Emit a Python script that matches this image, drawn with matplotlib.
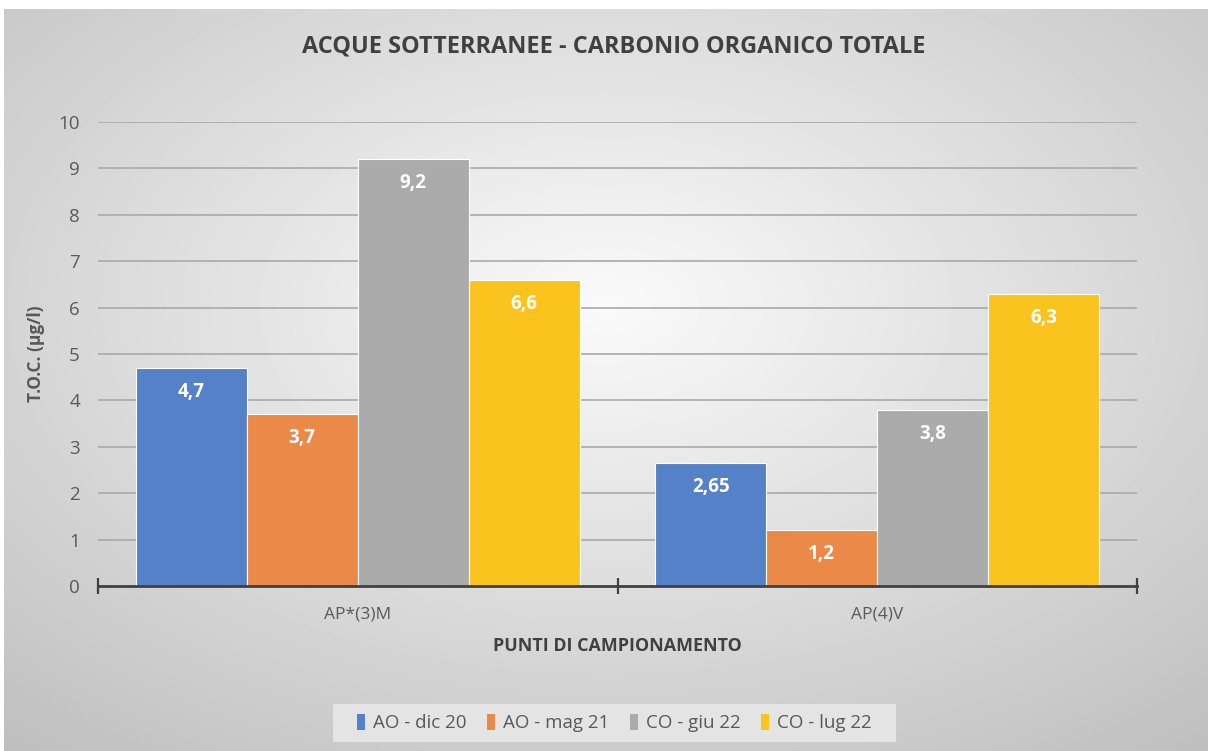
import numpy as np
import matplotlib
matplotlib.use("Agg")
import matplotlib.pyplot as plt
from matplotlib.patches import Patch, Rectangle

# data
points = ["AP*(3)M", "AP(4)V"]
series = ["AO - dic 20", "AO - mag 21", "CO - giu 22", "CO - lug 22"]
dic20 = [4.7, 2.65]
mag21 = [3.7, 1.2]
giu22 = [9.2, 3.8]
lug22 = [6.6, 6.3]
values = [dic20, mag21, giu22, lug22]
colors = ["#5581C9", "#EB8A48", "#ABABAB", "#FBC31E"]

font = ["Open Sans", "DejaVu Sans"]
plt.rcParams["font.family"] = font

W, H = 1208, 751
fig = plt.figure(figsize=(W / 100, H / 100), dpi=100, facecolor="white")

# radial grey background like the Excel chart area
bg = fig.add_axes([0, 0, 1, 1], zorder=-10)
bg.set_xlim(0, W)
bg.set_ylim(H, 0)
bg.axis("off")
yy, xx = np.mgrid[0:200, 0:300]
dx = (xx / 299.0 - 0.5) * 2
dy = (yy / 199.0 - 0.4) * 2
r = np.sqrt(dx ** 2 + dy ** 2)
shade = np.clip(250 - 38 * r, 180, 255) / 255.0
bg.imshow(shade, cmap="gray", vmin=0, vmax=1, extent=(4, W, H, 9),
          aspect="auto", interpolation="bilinear")
# legend box
bg.add_patch(Rectangle((333, 704), 563, 38, facecolor="#e4e4e4",
                       edgecolor="none", zorder=2))

ax = fig.add_axes([98 / W, 165 / H, 1039 / W, 464 / H])
ax.patch.set_alpha(0)

x = np.arange(len(points))
w = 0.2137
for i, (vals, col) in enumerate(zip(values, colors)):
    pos = x + (i - 1.5) * w
    bars = ax.bar(pos, vals, w, color=col, edgecolor="white", linewidth=0.8,
                  label=series[i], zorder=3)
    for b, v in zip(bars, vals):
        ax.annotate(str(v).replace(".", ","), (b.get_x() + b.get_width() / 2, v),
                    xytext=(0, -24), textcoords="offset pixels",
                    ha="center", va="center", color="white",
                    fontsize=13.5, fontweight="bold", zorder=4)

ax.set_xlim(-0.5, 1.5)
ax.set_ylim(0, 10)
ax.set_yticks(range(0, 11))
for yv in range(1, 11):
    ax.axhline(yv, color="#a9a9a9", lw=1.2, zorder=1)

for s in ["top", "right", "left"]:
    ax.spines[s].set_visible(False)
ax.spines["bottom"].set_color("#404040")
ax.spines["bottom"].set_linewidth(2)
ax.spines["bottom"].set_zorder(5)

ax.set_xticks([-0.5, 0.5, 1.5])
ax.set_xticklabels([])
ax.set_xticks(x, minor=True)
ax.set_xticklabels(points, minor=True, fontsize=12.5, color="#595959")
ax.tick_params(axis="x", which="major", direction="inout", length=11,
               width=1.6, color="#404040")
ax.tick_params(axis="x", which="minor", length=0, pad=15)
ax.tick_params(axis="y", length=0, pad=13, labelsize=13.5,
               labelcolor="#595959")

ax.set_ylabel("T.O.C. (µg/l)", fontweight="bold",
              fontsize=12.5, color="#595959", labelpad=10)
ax.set_xlabel("PUNTI DI CAMPIONAMENTO", fontweight="bold",
              fontsize=12.9, color="#404040", labelpad=10)

fig.text(614 / W, 1 - 47 / H, "ACQUE SOTTERRANEE - CARBONIO ORGANICO TOTALE",
         ha="center", va="center", fontweight="bold",
         fontsize=16.9, color="#404040")

handles = [Patch(facecolor=c, edgecolor="none") for c in colors]
leg = fig.legend(handles, series, loc="center", ncol=4,
                 bbox_to_anchor=(614 / W, 1 - 723 / H),
                 prop={"size": 13.5},
                 handlelength=0.45, handleheight=1.0, handletextpad=0.4,
                 columnspacing=1.1, frameon=False)
for t in leg.get_texts():
    t.set_color("#595959")

fig.savefig("out.png", dpi=100, facecolor="white")
